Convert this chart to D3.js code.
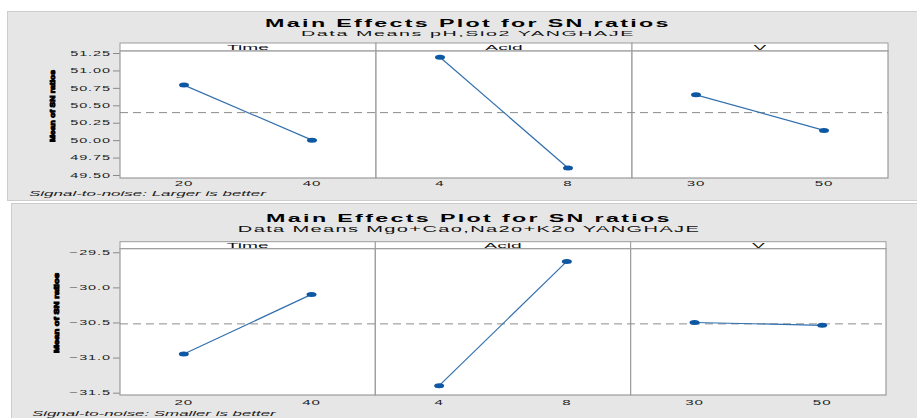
<!DOCTYPE html>
<html>
<head>
<meta charset="utf-8">
<script src="https://cdn.jsdelivr.net/npm/d3@7"></script>
<style>
  html, body { margin: 0; padding: 0; background: #ffffff; }
  svg { display: block; font-family: "Liberation Sans", Arial, sans-serif; }
</style>
</head>
<body>
<svg id="chart" width="917" height="418"></svg>
<script>
// Factors and their two levels
const factors = ["Time", "Acid", "V"];
const levels = [["20", "40"], ["4", "8"], ["30", "50"]];

// Mean SN ratio per factor level — pH, SiO2 response (larger is better)
const snLarger = [[50.79, 50.00], [51.19, 49.60], [50.65, 50.14]];
// Mean SN ratio per factor level — MgO+CaO, Na2O+K2O response (smaller is better)
const snSmaller = [[-30.95, -30.10], [-31.40, -29.63], [-30.50, -30.54]];

// Y-axis tick values
const ticksLarger = [49.50, 49.75, 50.00, 50.25, 50.50, 50.75, 51.00, 51.25];
const ticksSmaller = [-31.5, -31.0, -30.5, -30.0, -29.5];

// Texts
const mainTitle = "Main Effects Plot for SN ratios";
const subtitles = ["Data Means pH,Sio2 YANGHAJE", "Data Means Mgo+Cao,Na2o+K2o YANGHAJE"];
const footnotes = ["Signal-to-noise: Larger is better", "Signal-to-noise: Smaller is better"];
const yTitle = "Mean of SN ratios";

const svg = d3.select("#chart");

// Writes a text horizontally stretched to a given width (wide Minitab-style lettering)
function wideText(parent, x, y, str, opts) {
  const g = parent.append("g").attr("transform", `translate(${x},${y})`);
  const t = g.append("text")
    .attr("x", 0).attr("y", 0)
    .attr("text-anchor", opts.anchor || "start")
    .attr("font-size", opts.size)
    .attr("font-weight", opts.weight || "normal")
    .attr("font-style", opts.style || "normal")
    .attr("letter-spacing", opts.spacing || 0)
    .attr("fill", opts.fill || "#111")
    .text(str);
  const w = t.node().getComputedTextLength();
  const sx = opts.width ? opts.width / w : (opts.sx || 1);
  t.attr("transform", `scale(${sx},1)`);
  return g;
}

function drawPanel(cfg) {
  const L = cfg.layout;

  // Panel background
  svg.append("rect")
    .attr("x", L.bg[0] + 0.5).attr("y", L.bg[1] + 0.5)
    .attr("width", L.bg[2]).attr("height", L.bg[3])
    .attr("fill", "#e6e6e6").attr("stroke", "#cdcdcd").attr("stroke-width", 1);

  const y = d3.scaleLinear().domain(cfg.yDomain).range([L.plotBottom, L.plotTop]);
  const panelW = (L.right - L.left) / factors.length;

  // Overall mean reference
  const grandMean = d3.mean(cfg.values.flat());

  // Title and subtitle
  wideText(svg, L.titleX, L.titleY, mainTitle, {anchor: "middle", size: 10, weight: "bold", spacing: 1, width: L.titleW, fill: "#000"});
  wideText(svg, L.titleX, L.subY, cfg.subtitle, {anchor: "middle", size: L.subSize, spacing: 0.6, width: L.subW, fill: "#111"});

  // Y axis
  const yAxis = d3.axisLeft(y).tickValues(cfg.ticks).tickFormat(cfg.tickFormat).tickSize(7).tickPadding(3);
  const ga = svg.append("g").attr("transform", `translate(${L.left},0)`).call(yAxis);
  ga.select(".domain").remove();
  ga.selectAll(".tick line").attr("stroke", "#8a8a8a");
  ga.selectAll(".tick text").each(function(d) {
    const tk = d3.select(this.parentNode);
    d3.select(this).remove();
    wideText(tk, -9, 2.2, cfg.tickFormat(d), {anchor: "end", size: 6.3, spacing: 0.4, sx: 2.3, fill: "#222"});
  });

  // Y axis title
  const yt = svg.append("g").attr("transform", `translate(${L.yTitleX},${L.yTitleY}) rotate(-90)`);
  yt.append("text")
    .attr("text-anchor", "middle")
    .attr("font-size", 8)
    .attr("font-weight", "bold")
    .attr("fill", "#000")
    .attr("stroke", "#000").attr("stroke-width", 1.1)
    .attr("transform", "scale(1,0.8)")
    .attr("textLength", L.yTitleLen).attr("lengthAdjust", "spacingAndGlyphs")
    .attr("y", 3)
    .text(yTitle);

  factors.forEach((f, i) => {
    const x0 = L.left + i * panelW;
    const x = d3.scalePoint().domain(levels[i]).range([x0, x0 + panelW]).padding(0.5);

    // Strip
    svg.append("rect")
      .attr("x", x0).attr("y", L.stripTop)
      .attr("width", panelW).attr("height", L.plotTop - L.stripTop)
      .attr("fill", "#ffffff").attr("stroke", "#9c9c9c").attr("stroke-width", 1);
    wideText(svg, x0 + panelW / 2, L.stripBase, f, {anchor: "middle", size: 8, sx: 2.4, fill: "#111"});

    // Plot cell
    svg.append("rect")
      .attr("x", x0).attr("y", L.plotTop)
      .attr("width", panelW).attr("height", L.plotBottom - L.plotTop)
      .attr("fill", "#ffffff").attr("stroke", "#9c9c9c").attr("stroke-width", 1.2);

    // X tick labels
    levels[i].forEach(lv => {
      wideText(svg, x(lv), L.xLabelBase, lv, {anchor: "middle", size: 6.3, spacing: 0.4, sx: 2.4, fill: "#222"});
    });
  });

  // Dashed grand-mean line across all cells
  svg.append("line")
    .attr("x1", L.left).attr("x2", L.right)
    .attr("y1", y(grandMean)).attr("y2", y(grandMean))
    .attr("stroke", "#8c8c8c").attr("stroke-width", 1)
    .attr("stroke-dasharray", "8,5");

  factors.forEach((f, i) => {
    const x0 = L.left + i * panelW;
    const x = d3.scalePoint().domain(levels[i]).range([x0, x0 + panelW]).padding(0.5);
    const pts = levels[i].map((lv, k) => [x(lv), y(cfg.values[i][k])]);

    svg.append("path")
      .attr("d", d3.line()(pts))
      .attr("fill", "none")
      .attr("stroke", "#3270ad").attr("stroke-width", 1.2);

    svg.selectAll(null).data(pts).enter().append("ellipse")
      .attr("cx", d => d[0]).attr("cy", d => d[1])
      .attr("rx", 5).attr("ry", 2.5)
      .attr("fill", "#0d57a3");
  });

  // Footnote
  wideText(svg, L.footX, L.footBase, cfg.footnote, {anchor: "start", size: 7, style: "italic", width: L.footW, fill: "#222"});
}

drawPanel({
  values: snLarger,
  ticks: ticksLarger,
  tickFormat: d3.format(".2f"),
  yDomain: [49.457, 51.279],
  subtitle: subtitles[0],
  footnote: footnotes[0],
  layout: {
    bg: [7, 11, 912, 189],
    left: 120, right: 888,
    stripTop: 43, plotTop: 51, plotBottom: 178,
    titleX: 468, titleY: 27.3, titleW: 406,
    subY: 36, subSize: 7.6, subW: 334,
    stripBase: 49.5, xLabelBase: 186,
    yTitleX: 53, yTitleY: 106, yTitleLen: 72,
    footX: 29, footBase: 196.3, footW: 237
  }
});

drawPanel({
  values: snSmaller,
  ticks: ticksSmaller,
  tickFormat: d3.format(".1f"),
  yDomain: [-31.533, -29.449],
  subtitle: subtitles[1],
  footnote: footnotes[1],
  layout: {
    bg: [11, 203, 908, 217],
    left: 120, right: 886,
    stripTop: 241.7, plotTop: 248.7, plotBottom: 395,
    titleX: 469, titleY: 222.3, titleW: 406,
    subY: 232.3, subSize: 9, subW: 463,
    stripBase: 247.6, xLabelBase: 405,
    yTitleX: 57, yTitleY: 313, yTitleLen: 80,
    footX: 32, footBase: 415.5, footW: 244
  }
});
</script>
</body>
</html>
